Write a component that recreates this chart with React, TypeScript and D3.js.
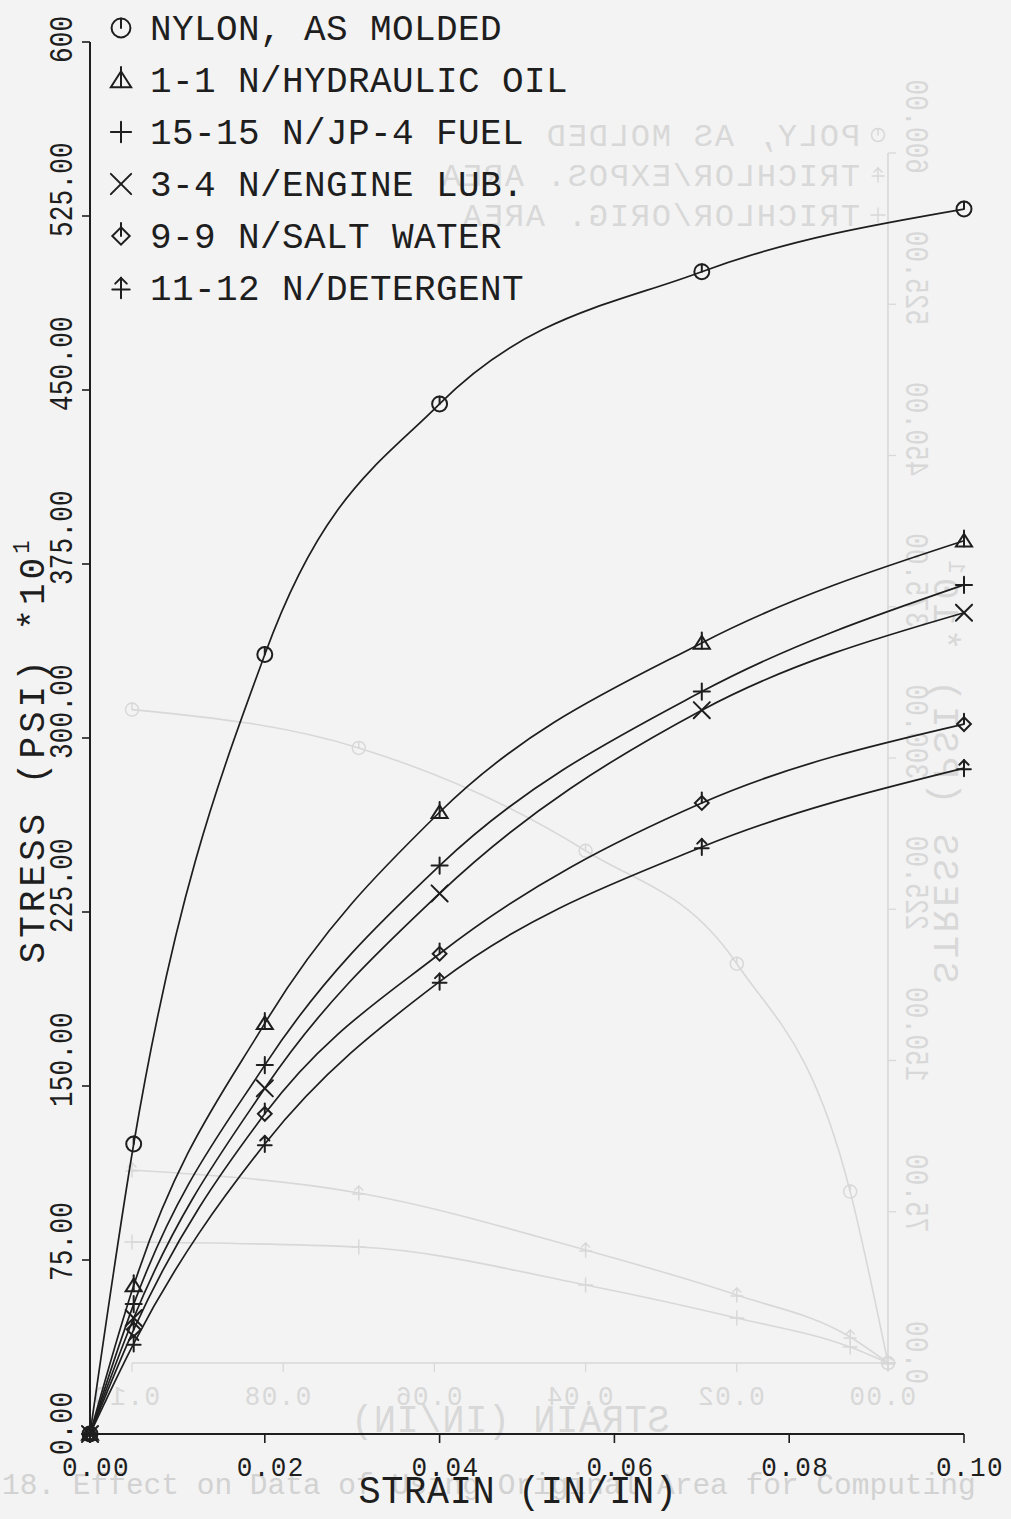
import React from 'react';
import * as d3 from 'd3';

const W = 1011;
const H = 1519;

// ---- main chart data ----
const strain = [0, 0.005, 0.02, 0.04, 0.07, 0.1];
const nylonAsMolded = [0, 125, 336, 444, 501, 528];
const hydraulicOil = [0, 64, 177, 268, 341, 385];
const jp4Fuel = [0, 56, 159, 245, 320, 366];
const engineLub = [0, 50, 149, 233, 312, 354];
const saltWater = [0, 45, 138, 207, 272, 306];
const detergent = [0, 39, 125, 195, 253, 287];

const seriesLabels = [
  'NYLON, AS MOLDED',
  '1-1 N/HYDRAULIC OIL',
  '15-15 N/JP-4 FUEL',
  '3-4 N/ENGINE LUB.',
  '9-9 N/SALT WATER',
  '11-12 N/DETERGENT',
];
const seriesMarkers = ['circle', 'triangle', 'plus', 'x', 'diamond', 'arrow'];
const seriesValues = [nylonAsMolded, hydraulicOil, jp4Fuel, engineLub, saltWater, detergent];

const xTicks = [0, 0.02, 0.04, 0.06, 0.08, 0.1];
const yTicks = [0, 75, 150, 225, 300, 375, 450, 525, 600];
const yTickLabels = ['0.00', '75.00', '150.00', '225.00', '300.00', '375.00', '450.00', '525.00', '600'];

// ---- faint bleed-through chart (mirrored, from the reverse page) ----
const ghostStrain = [0, 0.005, 0.02, 0.04, 0.07, 0.1];
const ghostPolyAsMolded = [0, 85, 198, 254, 305, 324];
const ghostTrichlorExpos = [0, 12.9, 33.7, 56, 84.3, 95.7];
const ghostTrichlorOrig = [0, 7.9, 22.3, 38.7, 57.5, 60];
const ghostLabels = ['POLY, AS MOLDED', 'TRICHLOR/EXPOS. AREA', 'TRICHLOR/ORIG. AREA'];
const ghostMarkers = ['circle', 'arrow', 'plus'];
const ghostValues = [ghostPolyAsMolded, ghostTrichlorExpos, ghostTrichlorOrig];
const ghostYTickLabels = ['0.00', '75.00', '150.00', '225.00', '300.00', '375.00', '450.00', '525.00', '600.00'];
const captionText = '18.  Effect on Data of Using Original Area for Computing';

const FONT = "'Liberation Mono', 'DejaVu Sans Mono', monospace";

function fmtX(v: number) {
  return v.toFixed(2);
}

function Marker({ type, cx, cy, color, sw = 2, k = 1 }: { type: string; cx: number; cy: number; color: string; sw?: number; k?: number }) {
  const p = { stroke: color, strokeWidth: sw, fill: 'none', strokeLinecap: 'round' as const };
  const a = (v: number) => v * k;
  switch (type) {
    case 'circle':
      return (
        <g {...p}>
          <circle cx={cx} cy={cy} r={a(6.5)} />
          <line x1={cx} y1={cy - a(6.5)} x2={cx} y2={cy} />
        </g>
      );
    case 'triangle':
      return (
        <g {...p}>
          <path d={`M${cx - a(7)},${cy + a(5)} L${cx + a(7)},${cy + a(5)} L${cx},${cy - a(6)} Z`} />
          <line x1={cx} y1={cy - a(9)} x2={cx} y2={cy + a(5)} />
        </g>
      );
    case 'plus':
      return (
        <g {...p}>
          <line x1={cx - a(7)} y1={cy} x2={cx + a(7)} y2={cy} />
          <line x1={cx} y1={cy - a(7)} x2={cx} y2={cy + a(7)} />
        </g>
      );
    case 'x':
      return (
        <g {...p}>
          <line x1={cx - a(7)} y1={cy - a(7)} x2={cx + a(7)} y2={cy + a(7)} />
          <line x1={cx - a(7)} y1={cy + a(7)} x2={cx + a(7)} y2={cy - a(7)} />
        </g>
      );
    case 'diamond':
      return (
        <g {...p}>
          <path d={`M${cx},${cy - a(6)} L${cx + a(6)},${cy} L${cx},${cy + a(6)} L${cx - a(6)},${cy} Z`} />
          <line x1={cx} y1={cy - a(9)} x2={cx} y2={cy} />
        </g>
      );
    case 'arrow':
    default:
      return (
        <g {...p}>
          <line x1={cx} y1={cy - a(7)} x2={cx} y2={cy + a(7)} />
          <line x1={cx - a(6)} y1={cy + a(1)} x2={cx + a(6)} y2={cy + a(1)} />
          <path d={`M${cx - a(4)},${cy - a(3)} L${cx},${cy - a(7)} L${cx + a(4)},${cy - a(3)}`} />
        </g>
      );
  }
}

function PText({ x, y, rot = 0, size, sy = 1, ls = 0, anchor = 'start', fill, children }: any) {
  return (
    <text
      transform={`translate(${x},${y}) rotate(${rot}) scale(1,${sy})`}
      fontFamily={FONT}
      fontSize={size}
      letterSpacing={ls}
      textAnchor={anchor}
      fill={fill}
    >
      {children}
    </text>
  );
}

function Chart({ xs, ys, values, labels, markers, color, lineW, axisW, legend, ghost, yLabels, xTitleX }: any) {
  const line = d3
    .line<[number, number]>()
    .x((d) => xs(d[0]))
    .y((d) => ys(d[1]))
    .curve(d3.curveMonotoneX);
  const x0 = xs(0);
  const x1 = xs(0.1);
  const y0 = ys(0);
  const yTop = ys(600);
  const mk = ghost ? 1 : 1.15;
  return (
    <g>
      {/* axes */}
      <line x1={x0} y1={y0} x2={x1} y2={y0} stroke={color} strokeWidth={axisW} />
      <line x1={x0} y1={y0} x2={x0} y2={yTop} stroke={color} strokeWidth={axisW} />
      {xTicks.map((t) => (
        <line key={'xt' + t} x1={xs(t)} y1={y0} x2={xs(t)} y2={y0 + 9} stroke={color} strokeWidth={axisW * 0.8} />
      ))}
      {yTicks.map((t) => (
        <line key={'yt' + t} x1={x0 - 8} y1={ys(t)} x2={x0} y2={ys(t)} stroke={color} strokeWidth={axisW * 0.8} />
      ))}
      {xTicks.map((t) => (
        <PText key={'xl' + t} x={xs(t) + 6} y={y0 + 42} size={26} sy={1.08} ls={1.4} anchor="middle" fill={color}>
          {fmtX(t)}
        </PText>
      ))}
      {yTicks.map((t, i) => (
        <PText key={'yl' + t} x={x0 - 18} y={ys(t) + 21} rot={-90} size={26} sy={1.25} ls={0.2} fill={color}>
          {yLabels[i]}
        </PText>
      ))}
      {/* axis titles */}
      <PText x={xTitleX} y={y0 + 69} size={37} sy={1.07} ls={0.6} anchor="middle" fill={color}>
        STRAIN (IN/IN)
      </PText>
      <PText x={x0 - 46} y={(y0 + yTop) / 2 + 12} rot={-90} size={36} sy={1.05} ls={4} anchor="middle" fill={color}>
        STRESS (PSI)  *10
        <tspan dy={-14} fontSize={22}>1</tspan>
      </PText>
      {/* curves */}
      {values.map((vals: number[], i: number) => {
        const pts: [number, number][] = (ghost ? ghostStrain : strain).map((s: number, j: number) => [s, vals[j]]);
        return (
          <g key={'s' + i}>
            <path d={line(pts) || ''} fill="none" stroke={color} strokeWidth={lineW} />
            {pts.map((p, j) => (
              <Marker key={j} type={markers[i]} cx={xs(p[0])} cy={ys(p[1])} color={color} sw={ghost ? 1.5 : 2} k={mk} />
            ))}
          </g>
        );
      })}
      {/* legend */}
      {labels.map((lab: string, i: number) => (
        <g key={'lg' + i}>
          <Marker type={markers[i]} cx={legend.sx} cy={legend.y0 + i * legend.dy} color={color} sw={ghost ? 1.5 : 2} k={legend.k} />
          <PText x={legend.tx} y={legend.y0 + i * legend.dy + legend.base} size={legend.size} ls={legend.ls} fill={color}>
            {lab}
          </PText>
        </g>
      ))}
    </g>
  );
}

export default function App() {
  const x = d3.scaleLinear().domain([0, 0.1]).range([90, 964]);
  const y = d3.scaleLinear().domain([0, 600]).range([1434, 42]);

  const gx = d3.scaleLinear().domain([0, 0.1]).range([90, 846]);
  const gy = d3.scaleLinear().domain([0, 600]).range([1363, 153]);

  return (
    <svg
      width={W}
      height={H}
      viewBox={`0 0 ${W} ${H}`}
      style={{ position: 'absolute', left: 0, top: 0, display: 'block' }}
    >
      <rect x={0} y={0} width={W} height={H} fill="#f3f3f3" />
      {/* bleed-through ghost chart, mirrored */}
      <g transform="translate(978,0) scale(-1,1)">
        <Chart
          xs={gx}
          ys={gy}
          values={ghostValues}
          labels={ghostLabels}
          markers={ghostMarkers}
          color="#d8d8d8"
          lineW={1.6}
          axisW={1.6}
          ghost
          yLabels={ghostYTickLabels}
          xTitleX={468}
          legend={{ sx: 100, tx: 118, y0: 135, dy: 40, base: 11, size: 32, ls: 1.8, k: 1 }}
        />
      </g>
      <text x={2} y={1494} fontFamily={FONT} fontSize={29.5} fill="#d2d2d2">
        {captionText}
      </text>
      {/* main chart */}
      <Chart
        xs={x}
        ys={y}
        values={seriesValues}
        labels={seriesLabels}
        markers={seriesMarkers}
        color="#1e1e1e"
        lineW={1.7}
        axisW={2}
        yLabels={yTickLabels}
        xTitleX={518}
        legend={{ sx: 121, tx: 150, y0: 28, dy: 52, base: 12, size: 36, ls: 0.4, k: 1.45 }}
      />
    </svg>
  );
}
